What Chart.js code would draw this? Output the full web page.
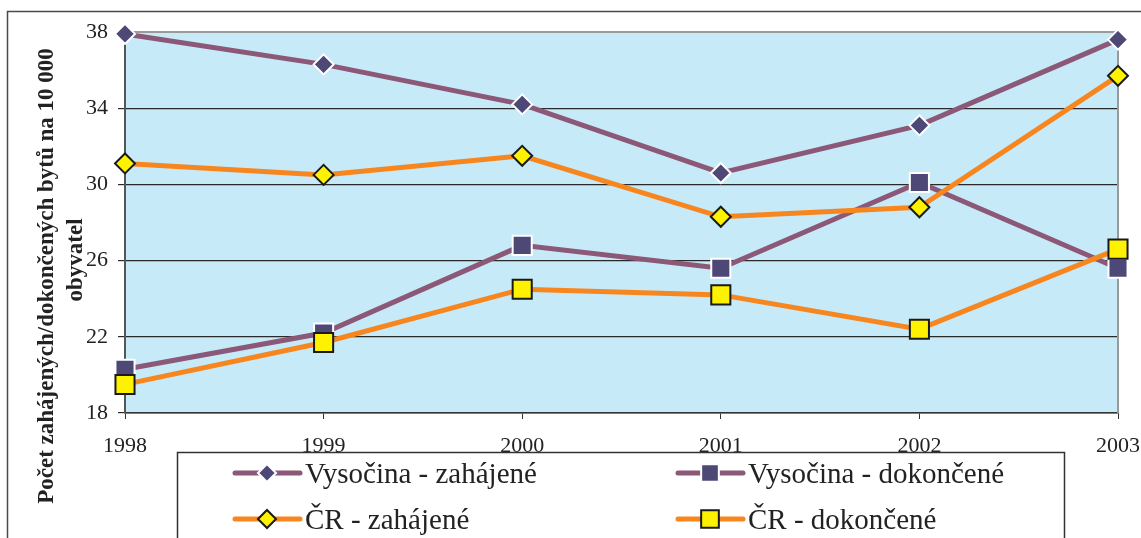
<!DOCTYPE html>
<html>
<head>
<meta charset="utf-8">
<script src="https://cdn.jsdelivr.net/npm/chart.js@4/dist/chart.umd.min.js"></script>
<style>
  html, body { margin: 0; padding: 0; background: #fff; }
  #wrap { width: 1141px; height: 538px; }
</style>
</head>
<body>
<div id="wrap"><canvas id="myChart" width="1141" height="538"></canvas></div>
<script>
// data
var years = ['1998', '1999', '2000', '2001', '2002', '2003'];
var vysocinaZahajene = [37.9, 36.3, 34.2, 30.6, 33.1, 37.6];
var vysocinaDokoncene = [20.3, 22.2, 26.8, 25.6, 30.1, 25.6];
var crZahajene = [31.1, 30.5, 31.5, 28.3, 28.8, 35.7];
var crDokoncene = [19.5, 21.7, 24.5, 24.2, 22.4, 26.6];
var yTicks = [18, 22, 26, 30, 34, 38];
var seriesNames = ['Vysočina - zahájené', 'Vysočina - dokončené', 'ČR - zahájené', 'ČR - dokončené'];
var yTitle = ['Počet zahájených/dokončených bytů na 10 000', 'obyvatel'];

var purpleLine = '#8c5877';
var purpleMark = '#4e4877';
var orangeLine = '#f7861f';
var yellowMark = '#fff200';
var serif = '"Liberation Serif", "Times New Roman", serif';

function serie(label, data, line, fill, edge, style, r, order) {
    return {
        label: label,
        data: data,
        borderColor: line,
        borderWidth: 5,
        pointStyle: style,
        pointRadius: r,
        pointHoverRadius: r,
        pointBackgroundColor: fill,
        pointBorderColor: edge,
        pointBorderWidth: 2,
        tension: 0,
        clip: false,
        order: order
    };
}

// plot background, frame
var backPlugin = {
    id: 'backPlugin',
    beforeDraw: function (chart) {
        var ctx = chart.ctx, a = chart.chartArea;
        ctx.save();
        ctx.fillStyle = '#fff';
        ctx.fillRect(0, 0, chart.width, chart.height);
        ctx.strokeStyle = '#4a4a4a';
        ctx.lineWidth = 1.5;
        ctx.strokeRect(7.5, 11.5, 1300, 700);
        ctx.fillStyle = '#c7eaf9';
        ctx.fillRect(a.left, a.top, a.right - a.left, a.bottom - a.top);
        ctx.restore();
    },
    beforeDatasetsDraw: function (chart) {
        var ctx = chart.ctx, a = chart.chartArea;
        ctx.save();
        ctx.strokeStyle = '#9a9a9a';
        ctx.lineWidth = 2;
        ctx.beginPath();
        ctx.moveTo(a.left, a.top);
        ctx.lineTo(a.right, a.top);
        ctx.lineTo(a.right, a.bottom);
        ctx.stroke();
        ctx.restore();
    }
};

// y title in two lines + boxed legend
var extraPlugin = {
    id: 'extraPlugin',
    afterDraw: function (chart) {
        var ctx = chart.ctx;
        ctx.save();
        ctx.fillStyle = '#222';
        ctx.font = 'bold 23px ' + serif;
        ctx.textAlign = 'center';
        ctx.textBaseline = 'middle';
        ctx.translate(47, 276);
        ctx.rotate(-Math.PI / 2);
        ctx.fillText(yTitle[0], 0, 0);
        ctx.fillText(yTitle[1], 16, 29);
        ctx.restore();

        ctx.save();
        ctx.strokeStyle = '#333';
        ctx.lineWidth = 1.5;
        ctx.strokeRect(177.5, 452.5, 887, 200);
        var cols = [235, 678], rows = [473, 519];
        chart.data.datasets.forEach(function (ds, i) {
            var x0 = cols[i % 2], y = rows[Math.floor(i / 2)];
            ctx.strokeStyle = ds.borderColor;
            ctx.lineWidth = 5;
            ctx.lineCap = 'round';
            ctx.beginPath();
            ctx.moveTo(x0, y);
            ctx.lineTo(x0 + 65, y);
            ctx.stroke();
            ctx.fillStyle = ds.pointBackgroundColor;
            ctx.strokeStyle = ds.pointBorderColor;
            ctx.lineWidth = ds.pointBorderWidth;
            Chart.helpers.drawPoint(ctx, {
                pointStyle: ds.pointStyle,
                radius: ds.pointRadius - 1,
                rotation: 0,
                borderWidth: ds.pointBorderWidth
            }, x0 + 32, y);
            ctx.fillStyle = '#222';
            ctx.font = '29px ' + serif;
            ctx.textAlign = 'left';
            ctx.textBaseline = 'middle';
            ctx.fillText(ds.label, x0 + 70, y + 2);
        });
        ctx.restore();
    }
};

var ctx = document.getElementById('myChart').getContext('2d');
var myChart = new Chart(ctx, {
    type: 'line',
    data: {
        labels: years,
        datasets: [
            serie(seriesNames[0], vysocinaZahajene, purpleLine, purpleMark, '#ffffff', 'rectRot', 10, 4),
            serie(seriesNames[1], vysocinaDokoncene, purpleLine, purpleMark, '#ffffff', 'rect', 13.5, 3),
            serie(seriesNames[2], crZahajene, orangeLine, yellowMark, '#1a1a1a', 'rectRot', 10, 2),
            serie(seriesNames[3], crDokoncene, orangeLine, yellowMark, '#1a1a1a', 'rect', 13.5, 1)
        ]
    },
    options: {
        responsive: false,
        animation: false,
        layout: { padding: { left: 0, top: 32, right: 23, bottom: 0 } },
        plugins: {
            legend: { display: false },
            tooltip: { enabled: false }
        },
        scales: {
            x: {
                type: 'category',
                offset: false,
                afterFit: function (scale) {
                    scale.height = 125;
                    scale.paddingLeft = 0;
                    scale.paddingRight = 0;
                },
                grid: { drawOnChartArea: false, drawTicks: true, tickLength: 6, color: '#333' },
                border: { color: '#333', width: 1.5 },
                ticks: {
                    color: '#222',
                    font: { family: serif, size: 22 },
                    padding: 14,
                    maxRotation: 0,
                    autoSkip: false
                }
            },
            y: {
                min: 18,
                max: 38,
                afterFit: function (scale) {
                    scale.width = 125;
                    scale.paddingTop = 0;
                    scale.paddingBottom = 0;
                },
                afterBuildTicks: function (scale) {
                    scale.ticks = yTicks.map(function (v) { return { value: v }; });
                },
                grid: { color: '#2a2a2a', lineWidth: 1.2, tickLength: 7 },
                border: { color: '#555', width: 2 },
                ticks: {
                    color: '#222',
                    font: { family: serif, size: 22 },
                    padding: 10
                }
            }
        }
    },
    plugins: [backPlugin, extraPlugin]
});
</script>
</body>
</html>
